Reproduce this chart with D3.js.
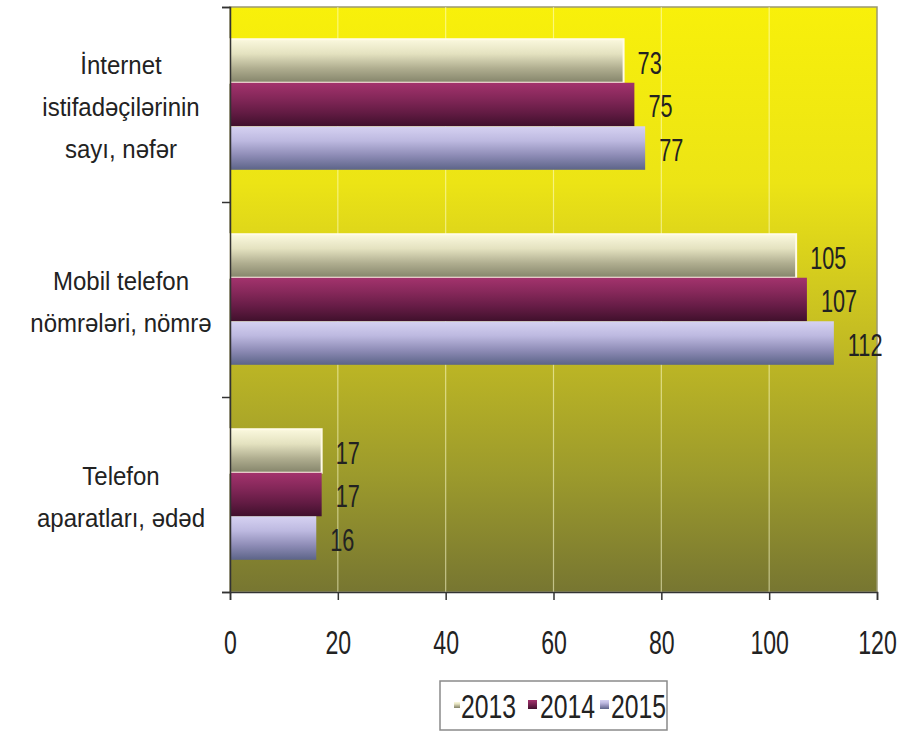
<!DOCTYPE html>
<html>
<head>
<meta charset="utf-8">
<script src="https://cdn.jsdelivr.net/npm/d3@7"></script>
<style>
  body { margin: 0; background: #fff; }
  svg text { font-family: 'Liberation Sans', Arial, sans-serif; fill: #222; }
</style>
</head>
<body>
<div id="container"></div>
<script>
const categories = [
  ['İnternet', 'istifadəçilərinin', 'sayı, nəfər'],
  ['Mobil telefon', 'nömrələri, nömrə'],
  ['Telefon', 'aparatları, ədəd']
]
const years = ['2013', '2014', '2015']
const values2013 = [73, 105, 17]
const values2014 = [75, 107, 17]
const values2015 = [77, 112, 16]
const xTicks = [0, 20, 40, 60, 80, 100, 120]

document.addEventListener('DOMContentLoaded', chartIt)

function chartIt() {
  var w = 912
  var h = 734
  var left = 230
  var right = 877
  var top = 7
  var bottom = 592
  // the source uses a narrow face, so numbers get squeezed sideways
  var narrow = 0.7

  const series = [values2013, values2014, values2015]
  const rows = []
  categories.forEach((c, i) => {
    years.forEach((y, j) => {
      rows.push({ cat: i, year: y, value: series[j][i] })
    })
  })

  const xScale = d3.scaleLinear()
    .domain([0, 120])
    .range([left, right])

  const yScale = d3.scaleBand()
    .domain(categories.map((c, i) => i))
    .range([top, bottom])

  const yInner = d3.scaleBand()
    .domain(years)
    .range([0, yScale.bandwidth()])
    .paddingOuter(0.74)
    .paddingInner(0)

  var svg = d3.select('div#container')
    .append('svg')
    .attr('width', w)
    .attr('height', h)

  var defs = svg.append('defs')

  // plot background, yellow fading to olive
  var bg = defs.append('linearGradient')
    .attr('id', 'bg')
    .attr('x1', 0).attr('y1', 0).attr('x2', 0).attr('y2', 1)
  bg.append('stop').attr('offset', '0%').attr('stop-color', '#f8f00a')
  bg.append('stop').attr('offset', '30%').attr('stop-color', '#ece415')
  bg.append('stop').attr('offset', '55%').attr('stop-color', '#c6be22')
  bg.append('stop').attr('offset', '80%').attr('stop-color', '#9c9a2c')
  bg.append('stop').attr('offset', '100%').attr('stop-color', '#777631')

  const barStops = {
    '2013': ['#fbf9de', '#e4e2c0', '#b0ae90', '#84846a'],
    '2014': ['#a3336d', '#86285a', '#651c45', '#40102c'],
    '2015': ['#d6d2f2', '#bdb9e0', '#8e8cb6', '#5c6488']
  }
  years.forEach(y => {
    var g = defs.append('linearGradient')
      .attr('id', 'bar' + y)
      .attr('x1', 0).attr('y1', 0).attr('x2', 0).attr('y2', 1)
    barStops[y].forEach((c, k) => {
      g.append('stop')
        .attr('offset', (k * 100 / 3) + '%')
        .attr('stop-color', c)
    })
  })

  svg.append('rect')
    .attr('x', left)
    .attr('y', top)
    .attr('width', right - left)
    .attr('height', bottom - top)
    .attr('fill', 'url(#bg)')
    .attr('stroke', '#9a9870')
    .attr('stroke-width', 1.5)

  svg.append('g')
    .selectAll('line')
    .data(xTicks.slice(1, -1))
    .enter().append('line')
    .attr('x1', d => xScale(d))
    .attr('x2', d => xScale(d))
    .attr('y1', top)
    .attr('y2', bottom)
    .attr('stroke', 'rgba(255,255,210,0.55)')
    .attr('stroke-width', 1.2)

  svg.append('g')
    .selectAll('.bar')
    .data(rows)
    .enter().append('rect')
    .attr('class', 'bar')
    .attr('x', xScale(0))
    .attr('y', d => yScale(d.cat) + yInner(d.year))
    .attr('width', d => xScale(d.value) - xScale(0))
    .attr('height', yInner.bandwidth())
    .attr('fill', d => 'url(#bar' + d.year + ')')
    .attr('stroke', d => d.year === '2013' ? '#fffbe8' : 'none')
    .attr('stroke-width', 2)

  svg.append('g')
    .selectAll('text')
    .data(rows)
    .enter().append('text')
    .attr('transform', d => 'translate(' + (xScale(d.value) + 14) + ',' +
      (yScale(d.cat) + yInner(d.year) + yInner.bandwidth() / 2 + 2) + ') scale(' + narrow + ',1)')
    .attr('dy', '0.35em')
    .style('font-size', '31px')
    .text(d => d.value)

  const xAxis = d3.axisBottom(xScale)
    .tickValues(xTicks)
    .tickSize(8)
    .tickPadding(30)

  svg.append('g')
    .attr('transform', 'translate(0,' + bottom + ')')
    .call(xAxis)
    .attr('id', 'x-axis')
    .call(g => g.select('.domain').attr('stroke', '#333').attr('stroke-width', 1.5))
    .call(g => g.selectAll('.tick line').attr('stroke', '#333').attr('stroke-width', 1.5))
    .call(g => g.selectAll('.tick text')
      .attr('transform', 'scale(0.68,1)')
      .style('font-size', '34px')
      .attr('fill', '#222'))
    .attr('font-family', null)

  const yAxis = d3.axisLeft(d3.scaleLinear().domain([0, 3]).range([top, bottom]))
    .tickValues([0, 1, 2, 3])
    .tickSize(8)
    .tickFormat('')

  svg.append('g')
    .attr('transform', 'translate(' + left + ',0)')
    .call(yAxis)
    .attr('id', 'y-axis')
    .call(g => g.select('.domain').attr('stroke', '#333').attr('stroke-width', 1.5))
    .call(g => g.selectAll('.tick line').attr('stroke', '#333').attr('stroke-width', 1.5))

  // category labels, several lines each
  var catLabels = svg.append('g')
    .selectAll('text')
    .data(categories)
    .enter().append('text')
    .attr('text-anchor', 'middle')
    .style('font-size', '25px')

  catLabels.each(function (lines, i) {
    var cy = yScale(i) + yScale.bandwidth() / 2 + 3
    d3.select(this)
      .attr('transform', 'translate(121,' + cy + ') scale(0.96,1)')
      .selectAll('tspan')
      .data(lines)
      .enter().append('tspan')
      .attr('x', 0)
      .attr('y', (d, k) => (k - (lines.length - 1) / 2) * 42)
      .attr('dy', '0.35em')
      .text(d => d)
  })

  var legend = svg.append('g')
    .attr('id', 'legend')

  legend.append('rect')
    .attr('x', 440)
    .attr('y', 681)
    .attr('width', 227)
    .attr('height', 49)
    .attr('fill', '#fff')
    .attr('stroke', '#8a8a8a')
    .attr('stroke-width', 1.5)

  const markX = [454, 528, 600]
  const labelX = [461, 540, 611]
  years.forEach((y, j) => {
    legend.append('rect')
      .attr('x', markX[j])
      .attr('y', j === 0 ? 702 : 700)
      .attr('width', j === 0 ? 6 : 9)
      .attr('height', j === 0 ? 6 : 9)
      .attr('fill', 'url(#bar' + y + ')')

    legend.append('text')
      .attr('transform', 'translate(' + labelX[j] + ',706) scale(0.75,1)')
      .attr('dy', '0.35em')
      .style('font-size', '33px')
      .text(y)
  })
}
</script>
</body>
</html>
